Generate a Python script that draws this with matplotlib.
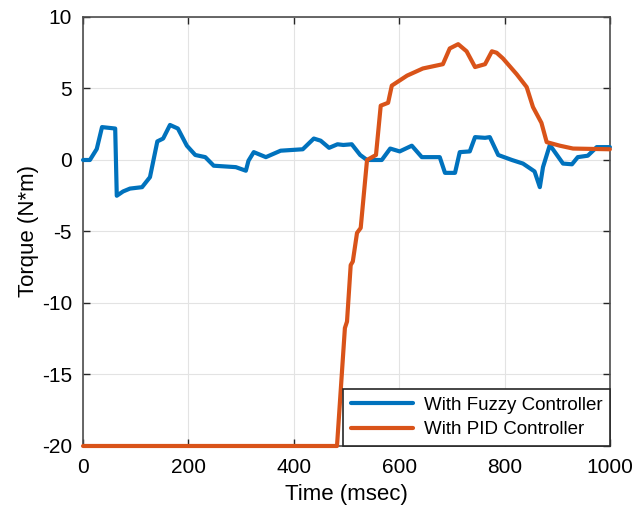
import matplotlib
matplotlib.use("Agg")
from matplotlib import pyplot as plt

plt.rcParams['font.family'] = ['Liberation Sans', 'DejaVu Sans']
plt.rcParams['axes.unicode_minus'] = False

# torque with the fuzzy controller
t_fuzzy = [0, 13, 26, 36, 61, 64, 76, 89, 112, 127, 141, 152, 165, 180, 197, 213,
           232, 248, 290, 309, 314, 324, 347, 375, 417, 438, 451, 467, 483, 494,
           510, 526, 539, 567, 583, 601, 624, 643, 677, 687, 706, 715, 734, 744,
           763, 772, 788, 814, 835, 857, 867, 873, 886, 911, 928, 939, 958, 975, 1000]
fuzzy = [0, 0, 0.77, 2.3, 2.2, -2.5, -2.2, -2.0, -1.9, -1.2, 1.3, 1.5, 2.45, 2.2,
         1.0, 0.35, 0.2, -0.4, -0.5, -0.75, -0.05, 0.55, 0.2, 0.65, 0.75, 1.5,
         1.35, 0.85, 1.1, 1.05, 1.1, 0.35, 0, 0, 0.8, 0.6, 1.0, 0.2, 0.2, -0.9,
         -0.9, 0.55, 0.6, 1.6, 1.55, 1.6, 0.35, 0, -0.25, -0.8, -1.9, -0.5, 1.05,
         -0.25, -0.3, 0.2, 0.3, 0.9, 0.9]

# torque with the PID controller
t_pid = [0, 482, 497, 501, 508, 512, 520, 527, 539, 556, 565, 579, 586, 615, 645,
         683, 696, 712, 728, 744, 763, 776, 785, 797, 823, 842, 854, 870, 880,
         905, 930, 1000]
pid = [-20, -20, -11.75, -11.3, -7.35, -7.1, -5.1, -4.75, 0, 0.35, 3.8, 4.0, 5.2,
       5.9, 6.4, 6.7, 7.8, 8.1, 7.6, 6.5, 6.7, 7.6, 7.5, 7.1, 6.0, 5.1, 3.7,
       2.6, 1.25, 1.0, 0.8, 0.75]

xticks = [0, 200, 400, 600, 800, 1000]
yticks = [-20, -15, -10, -5, 0, 5, 10]

fig = plt.figure(figsize=(6.34, 5.15), dpi=100)
ax = fig.add_axes([0.131, 0.134, 0.831, 0.833])

ax.plot(t_fuzzy, fuzzy, color='#0072BD', lw=3, label='With Fuzzy Controller',
        clip_on=False, zorder=3, solid_joinstyle='round', solid_capstyle='round')
ax.plot(t_pid, pid, color='#D95319', lw=3, label='With PID Controller',
        clip_on=False, zorder=3, solid_joinstyle='round', solid_capstyle='round')

ax.set_xlim(0, 1000)
ax.set_ylim(-20, 10)
ax.set_xticks(xticks)
ax.set_yticks(yticks)
ax.grid(True, color='#e3e3e3', lw=0.8)
ax.set_axisbelow(True)
ax.tick_params(direction='in', length=5, width=1, top=True, right=True,
               labelsize=15, color='#262626')
ax.tick_params(axis='x', pad=9)
ax.tick_params(axis='y', pad=8)
for s in ax.spines.values():
    s.set_color('#4d4d4d')
    s.set_linewidth(1.2)

ax.set_xlabel('Time (msec)', fontsize=16, labelpad=5)
ax.set_ylabel('Torque (N*m)', fontsize=16, labelpad=2)

leg = ax.legend(loc='lower right', fontsize=13.5, fancybox=False,
                edgecolor='#262626', framealpha=1, handlelength=3.3,
                borderaxespad=0.0, borderpad=0.4, labelspacing=0.4,
                handletextpad=0.6)
leg.get_frame().set_linewidth(1.2)

plt.savefig('out.png', dpi=100)
